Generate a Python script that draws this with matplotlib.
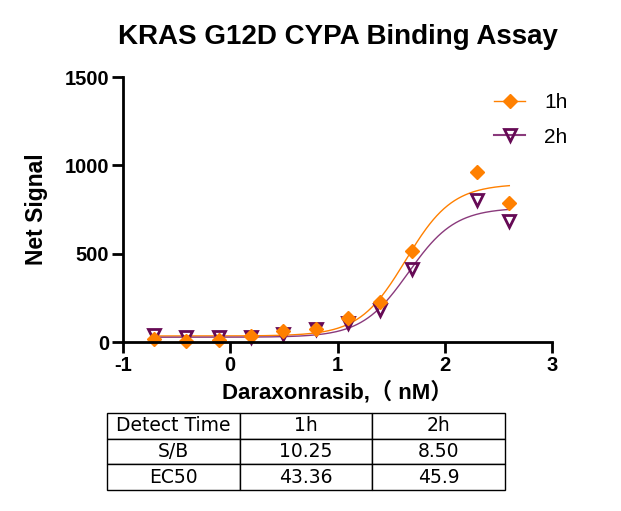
import numpy as np
import matplotlib
matplotlib.use("Agg")
import matplotlib.pyplot as plt

plt.rcParams['font.family'] = ['Liberation Sans', 'Noto Sans CJK SC', 'DejaVu Sans']
plt.rcParams['axes.unicode_minus'] = False

# log10 concentration (nM)
log_conc = [-0.709, -0.408, -0.107, 0.194, 0.495, 0.796, 1.097, 1.398, 1.699, 2.301, 2.602]
signal_1h = [15, 6, 11, 34, 64, 75, 134, 228, 513, 964, 789]
signal_2h = [40, 30, 27, 30, 45, 72, 106, 181, 412, 804, 683]

# 4PL fit parameters (bottom, top, logEC50, hill)
fit_1h = (34, 895, np.log10(43.36), 2.0)
fit_2h = (27, 760, np.log10(45.9), 2.0)

table_rows = [["Detect Time", "1h", "2h"],
              ["S/B", "10.25", "8.50"],
              ["EC50", "43.36", "45.9"]]

c1 = '#FF8000'
c2 = '#660A55'
c2_line = '#8A3A7C'


def four_pl(x, p):
    bottom, top, logec50, hill = p
    return bottom + (top - bottom) / (1 + 10 ** ((logec50 - x) * hill))


fig = plt.figure(figsize=(6.21, 5.11), dpi=100)
ax = fig.add_axes([123 / 621, 1 - 342 / 511, 429 / 621, 265 / 511])

xs = np.linspace(min(log_conc), max(log_conc), 300)
ax.plot(xs, four_pl(xs, fit_1h), color=c1, lw=1)
ax.plot(xs, four_pl(xs, fit_2h), color=c2_line, lw=1)
ax.plot(log_conc, signal_2h, linestyle='none', marker='v', ms=9, mfc='none',
        mec=c2, mew=2, clip_on=False)
ax.plot(log_conc, signal_1h, linestyle='none', marker='D', ms=7, color=c1, clip_on=False)

# legend handles
ax.plot([], [], color=c1, marker='D', ms=7, lw=1, label='1h')
ax.plot([], [], color=c2_line, marker='v', ms=9, mfc='none', mec=c2, mew=2, lw=1.5, label='2h')
handles, labels = ax.get_legend_handles_labels()
leg = ax.legend(handles[-2:], labels[-2:], frameon=False, loc='upper right',
                bbox_to_anchor=(1.08, 1.01), fontsize=15, handlelength=1.5,
                labelspacing=0.75, handletextpad=0.9)

ax.set_xlim(-1, 3)
ax.set_ylim(0, 1500)
ax.set_xticks([-1, 0, 1, 2, 3])
ax.set_yticks([0, 500, 1000, 1500])
for s in ['top', 'right']:
    ax.spines[s].set_visible(False)
for s in ['left', 'bottom']:
    ax.spines[s].set_linewidth(2)
ax.tick_params(width=2, length=8, labelsize=14.5, pad=2)
for lab in ax.get_xticklabels() + ax.get_yticklabels():
    lab.set_fontweight('bold')

ax.set_title('KRAS G12D CYPA Binding Assay', fontsize=20, fontweight='bold', pad=24)
ax.set_ylabel('Net Signal', fontsize=16.5, fontweight='bold', labelpad=12)
ax.set_xlabel('Daraxonrasib,\uff08 nM\uff09', fontsize=16, fontweight='bold', labelpad=4)

tab = ax.table(cellText=table_rows, cellLoc='center',
               bbox=[(107 - 123) / 429, -(490 - 342) / 265, (505 - 107) / 429, (490 - 413) / 265])
tab.auto_set_font_size(False)
for (r, c), cell in tab.get_celld().items():
    cell.set_fontsize(13.5)
    cell.set_linewidth(1)
    cell.get_text().set_fontfamily(['DejaVu Sans'])

fig.savefig('out.png', dpi=100)
